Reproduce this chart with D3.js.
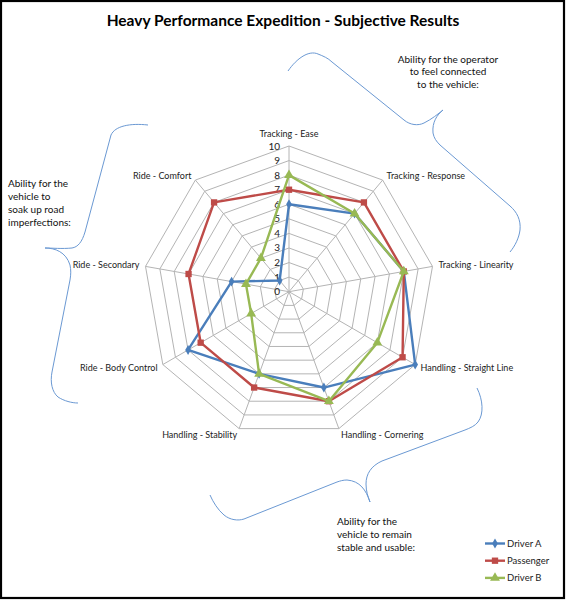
<!DOCTYPE html>
<html>
<head>
<meta charset="utf-8">
<script src="https://cdnjs.cloudflare.com/ajax/libs/d3/7.8.5/d3.min.js"></script>
<style>
  html, body { margin: 0; padding: 0; background: #fff; }
  svg { display: block; font-family: Lato, "Open Sans", sans-serif; }
</style>
</head>
<body>
<svg id="chart" width="566" height="600"></svg>
<script>
// ---------- data ----------
const categories = [
  "Tracking - Ease", "Tracking - Response", "Tracking - Linearity",
  "Handling - Straight Line", "Handling - Cornering", "Handling - Stability",
  "Ride - Body Control", "Ride - Secondary", "Ride - Comfort"
];
const seriesNames = ["Driver A", "Passenger", "Driver B"];
const driverA   = [6, 7, 8, 10, 7, 6, 8, 4, 1];
const passenger = [7, 8, 8, 9, 8, 7, 7, 7, 8];
const driverB   = [8, 7, 8, 7, 8, 6, 3, 3, 3];
const tickValues = [0, 1, 2, 3, 4, 5, 6, 7, 8, 9, 10];
const title = "Heavy Performance Expedition - Subjective Results";
const noteTop = ["Ability for the operator", "to feel connected", "to the vehicle:"];
const noteLeft = ["Ability for the", "vehicle to", "soak up road", "imperfections:"];
const noteBottom = ["Ability for the", "vehicle to remain", "stable and usable:"];

// ---------- layout ----------
const svg = d3.select("#chart");
const W = 566, H = 600;
const cx = 289, cy = 291.7, R = 145.7;
const colors = ["#4a7ebb", "#be4b48", "#98b954"];
const symbols = [d3.symbolDiamond, d3.symbolSquare, d3.symbolTriangle];
const symSizes = [28, 40, 42];
const allSeries = [driverA, passenger, driverB];

svg.append("rect").attr("x", 0).attr("y", 0).attr("width", W).attr("height", H).attr("fill", "#fff");

const r = d3.scaleLinear().domain([0, 10]).range([0, R]);
const angle = d3.scalePoint().domain(categories).range([0, 2 * Math.PI * (categories.length - 1) / categories.length]);
const pt = (cat, v) => {
  const a = angle(cat);
  return [cx + r(v) * Math.sin(a), cy - r(v) * Math.cos(a)];
};

// grid rings
const g = svg.append("g");
tickValues.slice(1).forEach(t => {
  g.append("polygon")
    .attr("points", categories.map(c => pt(c, t).join(",")).join(" "))
    .attr("fill", "none").attr("stroke", "#b4b4b4").attr("stroke-width", 1);
});
// spokes
categories.forEach(c => {
  const p = pt(c, 10);
  g.append("line").attr("x1", cx).attr("y1", cy).attr("x2", p[0]).attr("y2", p[1])
    .attr("stroke", "#b4b4b4").attr("stroke-width", 1);
});

// tick labels
g.selectAll("text.tick").data(tickValues).enter().append("text")
  .attr("x", cx - 9).attr("y", d => cy - r(d))
  .attr("dy", "0.35em").attr("text-anchor", "end")
  .attr("font-size", 10).attr("fill", "#222").text(d => d);

// axis labels
categories.forEach(c => {
  const a = angle(c);
  const s = Math.sin(a);
  let x, y, anchor;
  if (Math.abs(s) < 0.1) {
    x = cx; y = cy - R - 12; anchor = "middle";
  } else {
    const p = pt(c, 10.42);
    x = p[0]; y = p[1]; anchor = s > 0 ? "start" : "end";
  }
  g.append("text").attr("x", x).attr("y", y).attr("dy", "0.35em")
    .attr("text-anchor", anchor).attr("font-size", 9).attr("fill", "#222").text(c);
});

// series
const line = d3.line();
allSeries.forEach((vals, i) => {
  const pts = categories.map((c, j) => pt(c, vals[j]));
  svg.append("path").attr("d", line(pts) + "Z")
    .attr("fill", "none").attr("stroke", colors[i]).attr("stroke-width", 2.4)
    .attr("stroke-linejoin", "round");
  svg.selectAll(null).data(pts).enter().append("path")
    .attr("transform", d => `translate(${d[0]},${d[1]})`)
    .attr("d", d3.symbol().type(symbols[i]).size(symSizes[i]))
    .attr("fill", colors[i]);
});

// title
svg.append("text").attr("x", 283).attr("y", 26).attr("text-anchor", "middle")
  .attr("font-size", 15.5).attr("font-weight", "bold").attr("fill", "#000").text(title);

// annotation texts
function lines(arr, x, y0, lh, anchor) {
  const t = svg.append("text").attr("font-size", 10).attr("fill", "#111").attr("text-anchor", anchor);
  arr.forEach((s, i) => t.append("tspan").attr("x", x).attr("y", y0 + i * lh).attr("dy", "0.35em").text(s));
}
lines(noteTop, 448, 59, 12.7, "middle");
lines(noteLeft, 8, 183.3, 13.2, "start");
lines(noteBottom, 337, 521.7, 13, "start");

// braces
const braceColor = "#6b99d3";
const braces = [
  "M288,71 C297,58 309,50 318,54 C323,56 328,58 332,62 L404,120 C410,125 418,126 424,123 C432,119 438,114 443,110",
  "M443,110 C437,115 432,122 433,133 C434,138 436,141 440,145 L510,206 C517,212 521,220 520,230 C519,238 515,246 510,252",
  "M148,125 C130,123 115,126 111,135 L85,232 C82,242 78,247 72,248 C62,249 52,248 45,248",
  "M45,248 C55,248 66,252 70,265 C71,270 71,274 70,280 L52,372 C50,382 52,392 58,397 C64,401 72,403 78,403",
  "M477,388 C483,400 484,414 478,422 C475,426 470,428 465,430 L382,461 C371,466 366,474 366,484 C366,491 368,497 370,502",
  "M370,502 C366,490 360,481 347,480 C343,480 340,481 337,482 L244,519 C238,521 230,520 224,515 C218,510 213,502 210,495"
];
braces.forEach(d => svg.append("path").attr("d", d).attr("fill", "none")
  .attr("stroke", braceColor).attr("stroke-width", 1));

// legend
const leg = svg.append("g");
seriesNames.forEach((n, i) => {
  const y = 543.5 + i * 17.2;
  leg.append("line").attr("x1", 485).attr("x2", 505).attr("y1", y).attr("y2", y)
    .attr("stroke", colors[i]).attr("stroke-width", 2.4);
  leg.append("path").attr("transform", `translate(495,${y})`)
    .attr("d", d3.symbol().type(symbols[i]).size(symSizes[i])).attr("fill", colors[i]);
  leg.append("text").attr("x", 507).attr("y", y).attr("dy", "0.35em")
    .attr("font-size", 9.5).attr("fill", "#222").text(n);
});

// frame
svg.append("rect").attr("x", 1).attr("y", 1).attr("width", W - 3).attr("height", H - 3)
  .attr("fill", "none").attr("stroke", "#000").attr("stroke-width", 2.2);
</script>
</body>
</html>
